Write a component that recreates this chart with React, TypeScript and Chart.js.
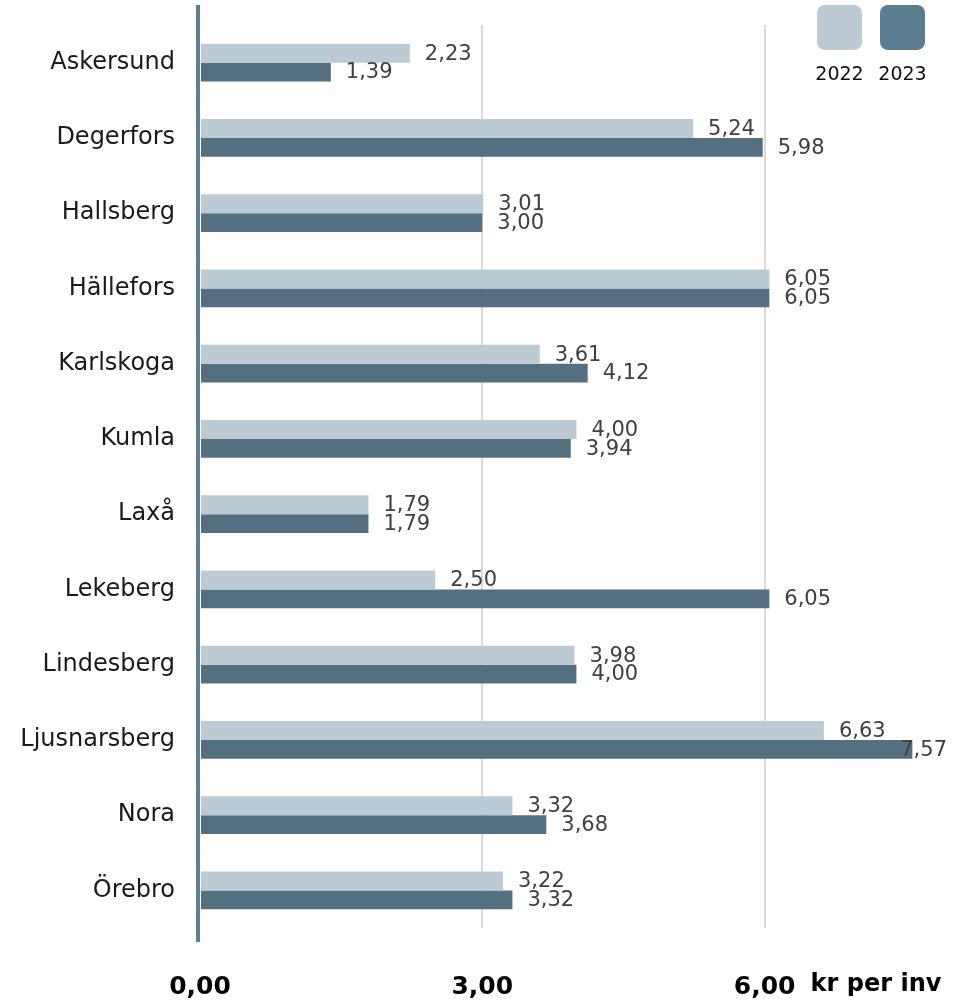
import React, { useEffect, useRef } from "react";
import { Chart, registerables } from "chart.js";

Chart.register(...registerables);

const categories = [
  "Askersund",
  "Degerfors",
  "Hallsberg",
  "Hällefors",
  "Karlskoga",
  "Kumla",
  "Laxå",
  "Lekeberg",
  "Lindesberg",
  "Ljusnarsberg",
  "Nora",
  "Örebro",
];
const seriesNames = ["2022", "2023"];
const values2022 = [2.23, 5.24, 3.01, 6.05, 3.61, 4.0, 1.79, 2.5, 3.98, 6.63, 3.32, 3.22];
const values2023 = [1.39, 5.98, 3.0, 6.05, 4.12, 3.94, 1.79, 6.05, 4.0, 7.57, 3.68, 3.32];
const seriesColors = ["#bccbd3", "#536f80"];
const legendColors = ["#bccbd3", "#5b7d8f"];
const unitLabel = "kr per inv";
const FONT = "'DejaVu Sans', Verdana, sans-serif";

const fmt = (v: number) => v.toFixed(2).replace(".", ",");

const overlayPlugin = {
  id: "overlay",
  afterDatasetsDraw(chart: any) {
    const ctx = chart.ctx;
    const area = chart.chartArea;
    ctx.save();
    // value labels
    ctx.font = `21px ${FONT}`;
    ctx.fillStyle = "#404040";
    ctx.textBaseline = "middle";
    ctx.textAlign = "left";
    chart.data.datasets.forEach((ds: any, di: number) => {
      const meta = chart.getDatasetMeta(di);
      meta.data.forEach((el: any, i: number) => {
        const txt = fmt(ds.data[i]);
        const w = ctx.measureText(txt).width;
        let x = el.x + 15;
        if (x + w > chart.width - 6) x = chart.width - 6 - w;
        ctx.fillText(txt, x, el.y + 1);
      });
    });
    // left axis line
    ctx.strokeStyle = "#5f7f92";
    ctx.lineWidth = 4;
    ctx.beginPath();
    ctx.moveTo(area.left - 2, 5);
    ctx.lineTo(area.left - 2, 942);
    ctx.stroke();
    // unit label
    const xs = chart.scales.x;
    ctx.font = `bold 24px ${FONT}`;
    ctx.fillStyle = "#000";
    ctx.textBaseline = "middle";
    ctx.fillText(unitLabel, xs.getPixelForValue(6) + 46, 985);
    // legend
    const boxes = [817, 880];
    boxes.forEach((bx, i) => {
      ctx.fillStyle = legendColors[i];
      ctx.beginPath();
      (ctx as any).roundRect(bx, 5, 45, 45, 8);
      ctx.fill();
      ctx.fillStyle = "#111";
      ctx.font = `19px ${FONT}`;
      ctx.textAlign = "center";
      ctx.textBaseline = "middle";
      ctx.fillText(seriesNames[i], bx + 22.5, 75);
    });
    ctx.restore();
  },
};

export default function App() {
  const ref = useRef<HTMLCanvasElement>(null);
  useEffect(() => {
    if (!ref.current) return;
    const chart = new Chart(ref.current, {
      type: "bar",
      data: {
        labels: categories,
        datasets: [
          {
            label: seriesNames[0],
            data: values2022,
            backgroundColor: seriesColors[0],
            categoryPercentage: 0.5,
            barPercentage: 1,
          },
          {
            label: seriesNames[1],
            data: values2023,
            backgroundColor: seriesColors[1],
            categoryPercentage: 0.5,
            barPercentage: 1,
          },
        ],
      },
      options: {
        indexAxis: "y",
        responsive: false,
        animation: false,
        devicePixelRatio: 1,
        layout: { padding: { top: 25, right: 19, bottom: 0, left: 0 } },
        plugins: { legend: { display: false }, tooltip: { enabled: false } },
        scales: {
          x: {
            min: 0,
            max: 7.8,
            afterBuildTicks: (s: any) => {
              s.ticks = s.ticks.filter((t: any) => Math.abs(t.value % 3) < 1e-9);
            },
            afterFit: (s: any) => {
              s.height = 72;
              s.paddingLeft = 0;
              s.paddingRight = 0;
            },
            ticks: {
              stepSize: 3,
              padding: 44,
              color: "#000",
              font: { family: FONT, size: 25, weight: "bold" },
              callback: (v: any) => fmt(Number(v)),
            },
            grid: {
              drawTicks: false,
              lineWidth: 2,
              color: (c: any) => (c.tick && c.tick.value === 0 ? "rgba(0,0,0,0)" : "#d9d9d9"),
            },
            border: { display: false },
          },
          y: {
            afterFit: (s: any) => {
              s.width = 200;
              s.paddingTop = 0;
              s.paddingBottom = 0;
            },
            ticks: {
              padding: 25,
              color: "#1a1a1a",
              font: { family: FONT, size: 24 },
            },
            grid: { display: false, drawTicks: false },
            border: { display: false },
          },
        },
      },
      plugins: [overlayPlugin],
    });
    return () => chart.destroy();
  }, []);
  return (
    <div style={{ position: "absolute", left: 0, top: 0, width: 953, height: 1000 }}>
      <canvas ref={ref} width={953} height={1000} />
    </div>
  );
}
